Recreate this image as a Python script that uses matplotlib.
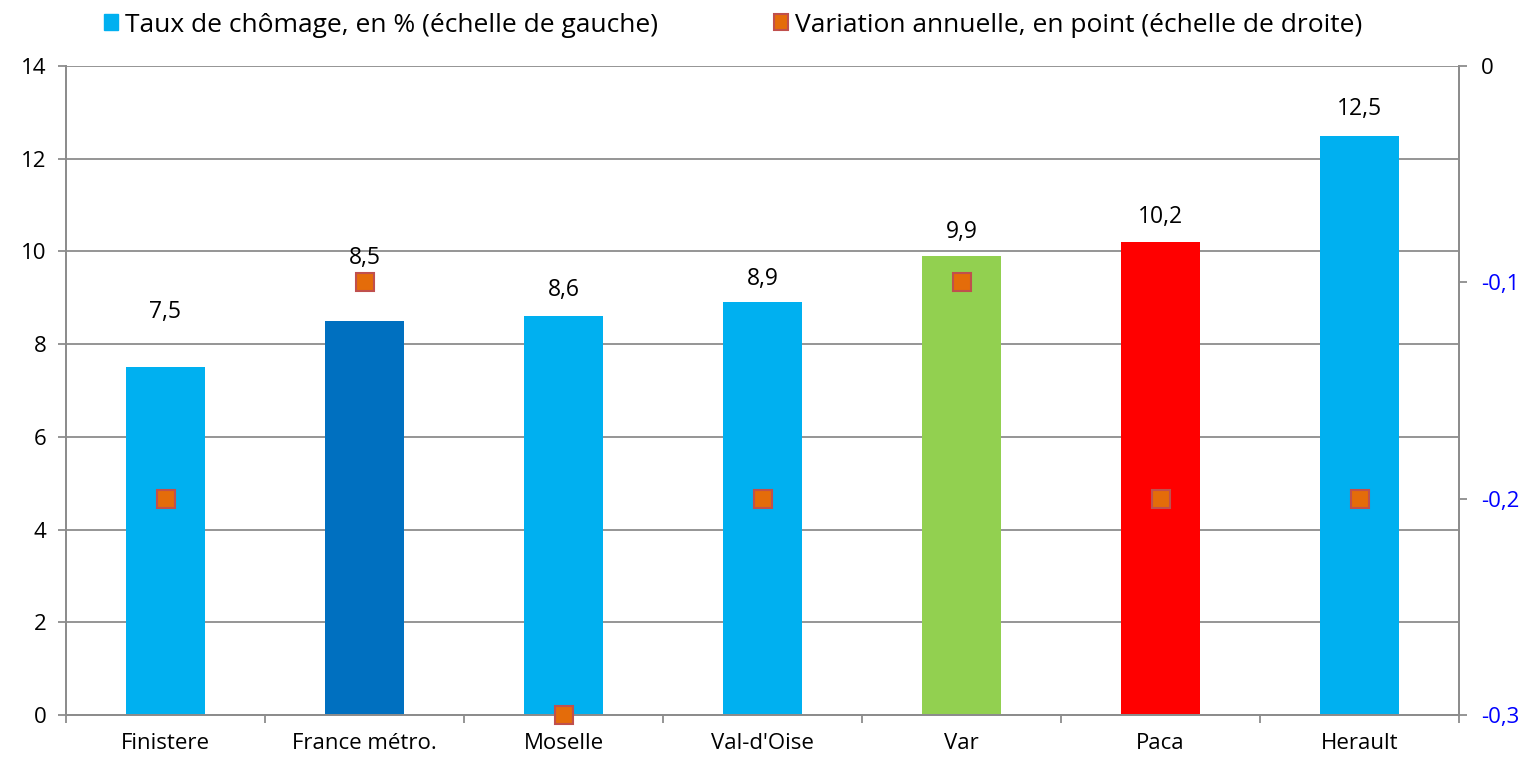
import numpy as np
import matplotlib.pyplot as plt
from matplotlib.ticker import FuncFormatter

categories = ["Finistere", "France métro.", "Moselle", "Val-d'Oise", "Var", "Paca", "Herault"]
taux = [7.5, 8.5, 8.6, 8.9, 9.9, 10.2, 12.5]
variation = [-0.2, -0.1, -0.3, -0.2, -0.1, -0.2, -0.2]
bar_colors = ["#00B0F0", "#0070C0", "#00B0F0", "#00B0F0", "#92D050", "#FF0000", "#00B0F0"]
label_lift = [40, 45, 19, 17, 17, 18, 19]  # points from bar top to label centre

plt.rcParams['font.family'] = ['Open Sans', 'DejaVu Sans']
grey = "#8C8C8C"

fig = plt.figure(figsize=(15.26, 7.6), dpi=100)
ax = fig.add_axes([66/1526, 1-715/760, (1459-66)/1526, (715-66)/760])
ax2 = ax.twinx()

x = np.arange(len(categories))
ax.bar(x, taux, width=0.4, color=bar_colors, zorder=2)
for xi, v, lift in zip(x, taux, label_lift):
    ax.annotate(f"{v:.1f}".replace(".", ","), (xi, v), xytext=(0, lift),
                textcoords="offset points", ha="center", va="center", fontsize=16.5)

ax.set_xlim(-0.5, len(categories) - 0.5)
ax.set_ylim(0, 14)
ax.set_yticks(range(0, 15, 2))
ax.yaxis.grid(True, color=grey, lw=1.3, zorder=0)
ax.set_axisbelow(True)
ax.set_xticks(x)
ax.set_xticklabels(categories, fontsize=16)
ax.set_xticks(np.arange(-0.5, len(categories)), minor=True)
ax.tick_params(axis="x", which="major", length=0, pad=13)
ax.tick_params(axis="x", which="minor", length=6, color=grey, width=1.3)
ax.tick_params(axis="y", length=6, color=grey, width=1.3, labelsize=16, pad=8)

ax2.plot(x, variation, ls="none", marker="s", ms=13, mfc="#E46C0A", mec="#C0504D",
         mew=1.5, zorder=5, clip_on=False)
ax2.set_ylim(-0.3, 0)
ax2.set_yticks([-0.3, -0.2, -0.1, 0])
ax2.yaxis.set_major_formatter(FuncFormatter(lambda v, p: "0" if abs(v) < 1e-9 else f"{v:.1f}".replace(".", ",")))
ax2.tick_params(axis="y", length=6, color=grey, width=1.3, labelsize=16, pad=10)
for lbl, val in zip(ax2.get_yticklabels(), [-0.3, -0.2, -0.1, 0]):
    lbl.set_color("black" if val == 0 else "#0000FF")

for a in (ax, ax2):
    a.spines["top"].set_visible(False)
    for s in ("left", "right", "bottom"):
        a.spines[s].set_color(grey)
        a.spines[s].set_linewidth(1.3)
ax.set_zorder(ax2.get_zorder() - 1)
ax.patch.set_visible(False)
ax2.patch.set_visible(False)

h1 = plt.Rectangle((0, 0), 1, 1, color="#00B0F0")
h2 = plt.Rectangle((0, 0), 1, 1, facecolor="#E46C0A", edgecolor="#C0504D", lw=1.5)
fig.legend([h1, h2], ["Taux de chômage, en % (échelle de gauche)",
                      "Variation annuelle, en point (échelle de droite)"],
           loc="center", bbox_to_anchor=(733/1526, 1-25/760), ncol=2, frameon=False,
           fontsize=19, handlelength=0.55, handleheight=0.55, handletextpad=0.25,
           columnspacing=4.4, borderpad=0)

fig.savefig("out.png", dpi=100)
